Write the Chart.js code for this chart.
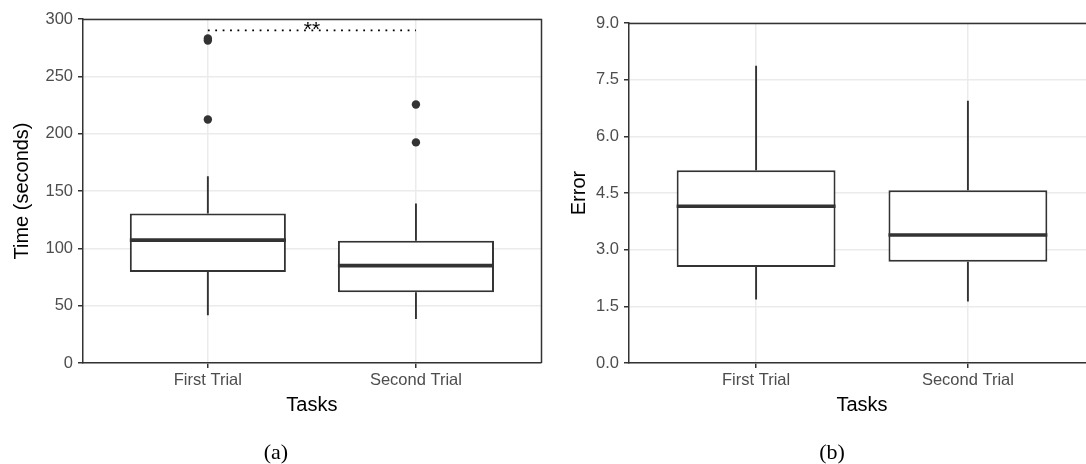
<!DOCTYPE html>
<html><head><meta charset="utf-8">
<script src="https://cdn.jsdelivr.net/npm/chart.js@4.4.1/dist/chart.umd.min.js"></script>
<style>
html,body{margin:0;padding:0;background:#fff;overflow:hidden;width:1086px;height:464px;}
#wrap{position:relative;width:1086px;height:464px;overflow:hidden;}
canvas{position:absolute;top:0;}
.cap{position:absolute;font-family:"Liberation Serif","Times New Roman",serif;font-size:22px;line-height:22px;width:100px;text-align:center;color:#000;}
</style></head>
<body><div id="wrap">
<canvas id="c1" width="545" height="464" style="left:0"></canvas>
<canvas id="c2" width="555" height="464" style="left:545px"></canvas>
<div class="cap" style="left:226px;top:441px">(a)</div>
<div class="cap" style="left:782px;top:441px">(b)</div>
</div>
<script>
// ---------- data ----------
const categories = ['First Trial', 'Second Trial'];

// Panel (a): completion time (seconds)
const timeLow    = [41.7, 38.3];
const timeQ1     = [79.4, 61.7];
const timeMedian = [107.2, 84.9];
const timeQ3     = [130.4, 106.6];
const timeHigh   = [162.9, 139.1];
const timeOutliers = [[283.0, 281.3, 212.4], [225.5, 192.4]];
const timeTicks  = [0, 50, 100, 150, 200, 250, 300];
const sigLevel = 290;
const sigLabel = '**';

// Panel (b): error
const errLow    = [1.68, 1.63];
const errQ1     = [2.54, 2.68];
const errMedian = [4.15, 3.39];
const errQ3     = [5.10, 4.57];
const errHigh   = [7.87, 6.94];
const errTicks  = [0, 1.5, 3.0, 4.5, 6.0, 7.5, 9.0];

// ---------- drawing ----------
Chart.defaults.font.family = "'Liberation Sans', Arial, sans-serif";
const DARK = '#333333';
const GRID = '#EBEBEB';
const HALF = 0.375; // half box width in category units

const framePlugin = {
  id: 'frame',
  afterDatasetsDraw(chart, args, opts) {
    const {ctx, chartArea: a, scales} = chart;
    ctx.save();
    ctx.strokeStyle = DARK;
    ctx.lineWidth = 1.5;
    ctx.beginPath();
    ctx.moveTo(a.left, Math.round(a.top) + 0.5);
    ctx.lineTo(Math.round(a.right) + 0.5, Math.round(a.top) + 0.5);
    ctx.lineTo(Math.round(a.right) + 0.5, a.bottom);
    ctx.stroke();
    if (opts.sig) {
      ctx.fillStyle = '#000';
      ctx.font = "21px 'Liberation Sans', Arial, sans-serif";
      ctx.textAlign = 'center';
      ctx.textBaseline = 'alphabetic';
      ctx.fillText(opts.sig.label, scales.x.getPixelForValue(1.5), scales.y.getPixelForValue(opts.sig.level) + 6);
    }
    ctx.restore();
  }
};

function makeChart(id, s) {
  const boxes = categories.map((c, i) => ({x: i + 1, y: [s.q1[i], s.q3[i]]}));
  const whiskers = [];
  const medians = [];
  categories.forEach((c, i) => {
    const x = i + 1;
    whiskers.push({x, y: s.q3[i]}, {x, y: s.high[i]}, {x, y: null},
                  {x, y: s.q1[i]}, {x, y: s.low[i]}, {x, y: null});
    medians.push({x: x - HALF, y: s.med[i]}, {x: x + HALF, y: s.med[i]}, {x: x + 0.5, y: null});
  });
  const datasets = [
    {type: 'bar', data: boxes, backgroundColor: '#ffffff', borderColor: DARK, borderWidth: 2,
     borderSkipped: false, barPercentage: 0.75, categoryPercentage: 1.0, grouped: false, order: 4},
    {type: 'line', data: whiskers, borderColor: DARK, borderWidth: 1.9, pointRadius: 0, spanGaps: false, order: 3},
    {type: 'line', data: medians, borderColor: DARK, borderWidth: 3.6, pointRadius: 0, spanGaps: false,
     borderCapStyle: 'butt', order: 2}
  ];
  if (s.outliers) {
    const pts = [];
    s.outliers.forEach((arr, i) => arr.forEach(v => pts.push({x: i + 1, y: v})));
    datasets.push({type: 'line', data: pts, showLine: false, pointRadius: 4.2, pointBackgroundColor: DARK,
                   pointBorderWidth: 0, order: 1});
  }
  if (s.sig) {
    datasets.push({type: 'line', data: [{x: 1, y: s.sig.level}, {x: 2, y: s.sig.level}], borderColor: '#000',
                   borderWidth: 1.8, borderDash: [1.8, 5.6], pointRadius: 0, order: 0});
  }
  return new Chart(document.getElementById(id), {
    type: 'bar',
    data: {datasets},
    plugins: [framePlugin],
    options: {
      responsive: false, animation: false, devicePixelRatio: 1,
      layout: {padding: s.pad},
      plugins: {legend: {display: false}, tooltip: {enabled: false}, frame: {sig: s.sig}},
      scales: {
        x: {
          type: 'linear', min: 0.4, max: 2.6, offset: false,
          afterBuildTicks: sc => { sc.ticks = categories.map((c, i) => ({value: i + 1})); },
          afterFit: sc => { sc.height = s.xHeight; },
          ticks: {callback: (v, i) => categories[i], color: '#4D4D4D', font: {size: 16.5}, padding: 3, maxRotation: 0, autoSkip: false},
          grid: {offset: false, color: GRID, lineWidth: 1.5, drawTicks: true, tickLength: 5, tickColor: DARK, tickWidth: 1.5},
          border: {display: true, color: DARK, width: 1.5},
          title: {display: true, text: 'Tasks', color: '#000', font: {size: 20}, padding: {top: 0, bottom: 47}}
        },
        y: {
          type: 'linear', min: s.ticks[0], max: s.ticks[s.ticks.length - 1],
          afterBuildTicks: sc => { sc.ticks = s.ticks.map(v => ({value: v})); },
          afterFit: sc => { sc.width = s.yWidth; },
          ticks: {callback: s.fmt, color: '#4D4D4D', font: {size: 16.5}, padding: 5},
          grid: {color: GRID, lineWidth: 1.5, drawTicks: true, tickLength: 5, tickColor: DARK, tickWidth: 1.5},
          border: {display: true, color: DARK, width: 1.5},
          title: {display: true, text: s.title, color: '#000', font: {size: 20}, padding: {top: s.titlePad, bottom: 0}}
        }
      }
    }
  });
}

makeChart('c1', {
  low: timeLow, q1: timeQ1, med: timeMedian, q3: timeQ3, high: timeHigh,
  outliers: timeOutliers, sig: {level: sigLevel, label: sigLabel},
  ticks: timeTicks, fmt: v => String(v), title: 'Time (seconds)', titlePad: 10,
  pad: {top: 19, right: 4, bottom: 0, left: 0}, yWidth: 83, xHeight: 101
});
makeChart('c2', {
  low: errLow, q1: errQ1, med: errMedian, q3: errQ3, high: errHigh,
  ticks: errTicks, fmt: v => Number(v).toFixed(1), title: 'Error', titlePad: 22,
  pad: {top: 23, right: 5, bottom: 0, left: 0}, yWidth: 84, xHeight: 101
});
</script>
</body></html>
